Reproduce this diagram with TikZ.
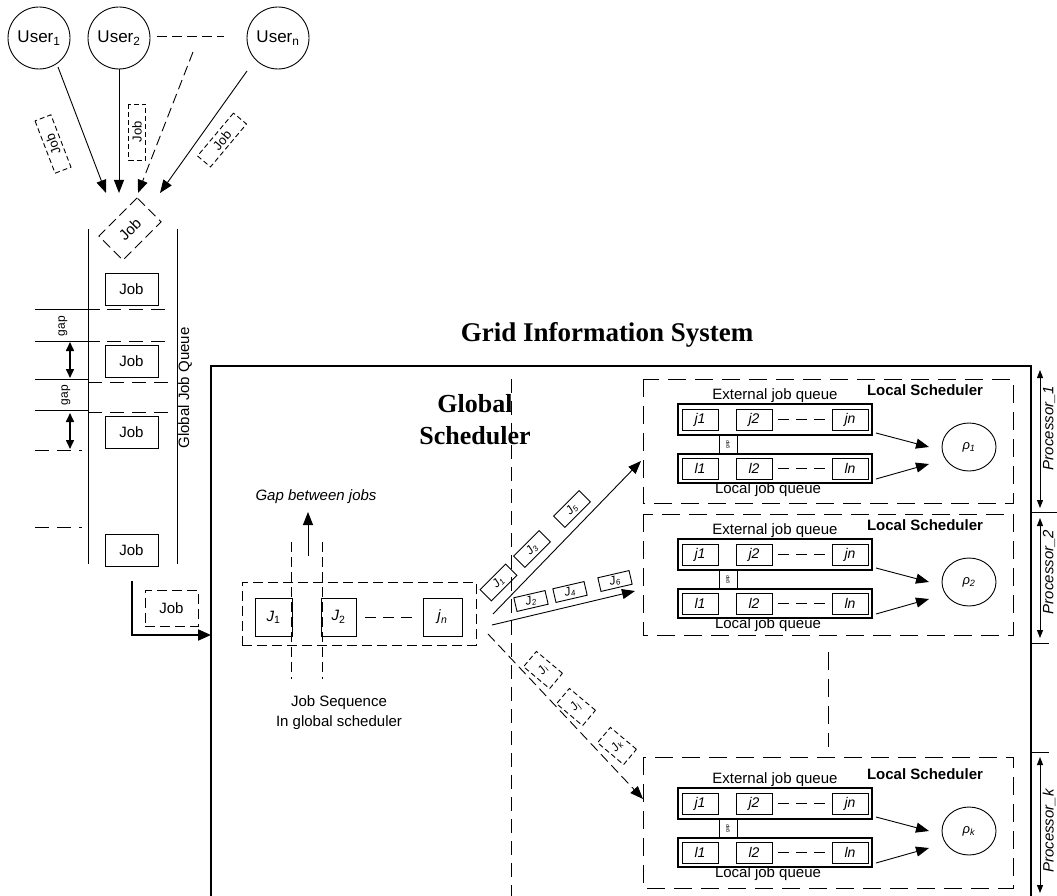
\documentclass[tikz,border=0pt]{standalone}
\usepackage{fontspec}
\setmainfont{Liberation Sans}
\newfontfamily\timesfam{Liberation Serif}
\usetikzlibrary{arrows.meta,shapes.geometric}
\newcommand\fs[1]{\fontsize{#1}{#1}\selectfont}
\newcommand\LocalSched[5]{%
\begin{scope}[shift={(0,#2)}]
  \draw[ldsh] (643,0) rectangle (1013,#4);
  \node[font=\bfseries\fs{15}] (#1title) at (925,{11+#3}) {Local Scheduler};
  \begin{scope}[shift={(0,#3)}]
    \node[lab] (#1extl) at (775,17) {External job queue};
    \node[qrect,minimum height=31pt] (#1ext) at (775,40.5) {};
    \node[qrect,minimum height=29pt] (#1loc) at (775,89.5) {};
    \node[ibox] (#1j1) at (700,40.5) {\textit{j1}};
    \node[ibox] (#1j2) at (754,40.5) {\textit{j2}};
    \node[ibox] (#1jn) at (850,40.5) {\textit{jn}};
    \node[ibox] (#1l1) at (700,89.5) {\textit{l1}};
    \node[ibox] (#1l2) at (754,89.5) {\textit{l2}};
    \node[ibox] (#1ln) at (850,89.5) {\textit{ln}};
    \draw[qdash,shorten <=6pt,shorten >=7pt] (#1j2) -- (#1jn);
    \draw[qdash,shorten <=6pt,shorten >=7pt] (#1l2) -- (#1ln);
    \node[lab] (#1locl) at (768,111) {Local job queue};
    \coordinate (#1ga) at (719,56); \coordinate (#1gb) at (719,75);
    \coordinate (#1gc) at (737,56); \coordinate (#1gd) at (737,75);
    \draw[line width=0.8pt] (#1ga) -- (#1gb);
    \draw[line width=0.8pt] (#1gc) -- (#1gd);
    \node[rotate=90,font=\fs{5},inner sep=0pt] (#1gap) at (728,65.5) {gap};
    \node[ellipse,draw,minimum width=54pt,minimum height=48pt,inner sep=0pt,font=\fs{13}] (#1p) at (969,68) {\textit{ρ}\textsubscript{\textit{#5}}};
    \coordinate (#1ea) at (876,54); \coordinate (#1pa) at (929,68);
    \coordinate (#1la) at (876,100); \coordinate (#1pb) at (929,85);
    \draw[arr] (#1ea) -- (#1pa);
    \draw[arr] (#1la) -- (#1pb);
  \end{scope}
\end{scope}}
\begin{document}
\begin{tikzpicture}[x=1pt,y=-1pt,line width=0.9pt,
  every node/.style={font=\fs{15}},
  arr/.style={-{Triangle[length=13pt,width=10pt]}},
  darr/.style={{Triangle[length=8pt,width=6pt]}-{Triangle[length=8pt,width=6pt]}},
  garr/.style={line width=1.6pt,{Triangle[length=9pt,width=8pt]}-{Triangle[length=9pt,width=8pt]}},
  ldsh/.style={dash pattern=on 18pt off 9pt},
  gdsh/.style={dash pattern=on 14pt off 8pt},
  dsh/.style={dash pattern=on 10pt off 5pt},
  sdsh/.style={dash pattern=on 5pt off 3pt},
  qdash/.style={dash pattern=on 11pt off 7pt},
  user/.style={circle,draw,minimum size=62pt,inner sep=0pt,font=\fs{17}},
  jobbox/.style={draw,minimum width=53pt,minimum height=32pt,inner sep=0pt},
  tagbox/.style={draw,sdsh,minimum width=56pt,minimum height=17pt,inner sep=0pt,font=\fs{13}},
  jtag/.style={draw,minimum width=36pt,minimum height=16pt,inner sep=0pt,font=\itshape\fs{12}},
  lab/.style={font=\fs{15},inner sep=0pt},
  ibox/.style={draw,minimum width=36pt,minimum height=21pt,inner sep=0pt,font=\fs{14}},
  qrect/.style={draw,line width=1.3pt,minimum width=194pt,inner sep=0pt},
  sbox/.style={draw,minimum height=38pt,inner sep=0pt,font=\fs{15}},
]
\useasboundingbox (0,0) rectangle (1057,896);
% users
\node[user] (u1) at (39,38) {User\textsubscript{1}};
\node[user] (u2) at (119,38) {User\textsubscript{2}};
\node[user] (un) at (278,38) {User\textsubscript{n}};
\coordinate (d1) at (157,36); \coordinate (d2) at (224,36);
\draw[dsh] (d1) -- (d2);
\coordinate (t1) at (106,193); \coordinate (t2) at (119,193);
\coordinate (t3) at (138,193); \coordinate (t4) at (160,193);
\coordinate (s1) at (58,67); \coordinate (s3) at (193,52); \coordinate (s4) at (247,71);
\draw[arr] (s1) -- (t1);
\draw[arr] (u2) -- (t2);
\draw[arr,dsh] (s3) -- (t3);
\draw[arr] (s4) -- (t4);
\node[tagbox,rotate=111] (tg1) at (53,144) {Job};
\node[tagbox,rotate=90] (tg2) at (137,132) {Job};
\node[tagbox,rotate=50] (tg3) at (222,140) {Job};
% global job queue
\node[draw,dsh,rotate=45,minimum width=54pt,minimum height=34pt,inner sep=0pt] (qd) at (130,229) {Job};
\coordinate (qa) at (88,229); \coordinate (qb) at (88,564);
\coordinate (qc) at (177,229); \coordinate (qe) at (177,564);
\draw (qa) -- (qb); \draw (qc) -- (qe);
\node[jobbox] (q1) at (131.5,289) {Job};
\node[jobbox] (q2) at (131.5,361) {Job};
\node[jobbox] (q3) at (131.5,432) {Job};
\node[jobbox] (q4) at (131.5,550) {Job};
\draw (35,309) -- (100,309); \draw[gdsh] (107,309) -- (170,309);
\draw (35,341) -- (100,341); \draw[gdsh] (107,341) -- (170,341);
\draw (35,379) -- (88,379); \draw[gdsh] (88,382) -- (170,382);
\draw (35,410) -- (88,410); \draw[gdsh] (88,412) -- (170,412);
\draw[gdsh] (35,450) -- (82,450);
\draw[gdsh] (35,527) -- (82,527);
\coordinate (ga) at (70,342); \coordinate (gb) at (70,378);
\coordinate (gc) at (70,413); \coordinate (gd) at (70,449);
\draw[garr] (ga) -- (gb);
\draw[garr] (gc) -- (gd);
\node[rotate=90,font=\fs{12}] (gp1) at (63,326) {gap};
\node[rotate=90,font=\fs{12}] (gp2) at (66,395) {gap};
\node[rotate=90,font=\fs{15}] (gjq) at (185,388) {Global Job Queue};
\coordinate (lq) at (132,581); \coordinate (gin) at (211,635);
\draw[line width=2pt,-{Triangle[length=13pt,width=11pt]}] (lq) |- (gin);
\node[draw,dsh,minimum width=53pt,minimum height=36pt,inner sep=0pt] (jd) at (171.5,608) {Job};
% grid information system
\draw[line width=1.2pt] (211,896) -- (211,366) -- (1031,366) -- (1031,896);
\node[font=\timesfam\bfseries\fs{27}] (gis) at (607,335) {Grid Information System};
\node[font=\timesfam\bfseries\fontsize{26}{32}\selectfont,align=center] (gs) at (475,420) {Global\\Scheduler};
\coordinate (va) at (511,379); \coordinate (vb) at (511,896);
\draw[gdsh] (va) -- (vb);
% job sequence
\node[draw,dsh,minimum width=234pt,minimum height=63pt,inner sep=0pt] (seq) at (359,613.5) {};
\node[sbox,minimum width=37pt] (J1) at (273.5,617) {\textit{J}\textsubscript{1}};
\node[sbox,minimum width=35pt] (J2) at (338.5,617) {\textit{J}\textsubscript{2}};
\node[sbox,minimum width=39pt] (Jn) at (442.5,617) {\textit{j}\textsubscript{\textit{n}}};
\draw[qdash,shorten <=9pt,shorten >=10pt] (J2) -- (Jn);
\coordinate (gl1) at (291,542); \coordinate (gl2) at (291,679);
\coordinate (gr1) at (322,542); \coordinate (gr2) at (322,679);
\draw[dsh] (gl1) -- (gl2); \draw[dsh] (gr1) -- (gr2);
\coordinate (up1) at (308,556); \coordinate (up2) at (308,512);
\draw[arr] (up1) -- (up2);
\node[font=\itshape\fs{15}] (gbj) at (316,497) {Gap between jobs};
\node[font=\fontsize{15}{20}\selectfont,align=center] (jsq) at (339,713) {Job Sequence\\In global scheduler};
% dispatch arrows
\coordinate (o1) at (493,614); \coordinate (e1) at (641,461);
\coordinate (o2) at (492,625); \coordinate (e2) at (635,591);
\coordinate (o3) at (488,634); \coordinate (e3) at (643,799);
\draw[arr] (o1) -- (e1);
\draw[arr] (o2) -- (e2);
\draw[arr,dsh] (o3) -- (e3);
\node[jtag,rotate=45] (tj1) at (498.5,582.5) {J\textsubscript{1}};
\node[jtag,rotate=45] (tj3) at (532,549) {J\textsubscript{3}};
\node[jtag,rotate=45] (tj5) at (572,509) {J\textsubscript{5}};
\node[jtag,rotate=13,minimum width=32pt,minimum height=14pt] (tj2) at (531,601) {J\textsubscript{2}};
\node[jtag,rotate=13,minimum width=32pt,minimum height=14pt] (tj4) at (570,592) {J\textsubscript{4}};
\node[jtag,rotate=13,minimum width=32pt,minimum height=14pt] (tj6) at (615,581) {J\textsubscript{6}};
\node[jtag,sdsh,rotate=-40,minimum width=34pt,minimum height=20pt] (tji) at (543,670) {};
\node[jtag,sdsh,rotate=-40,minimum width=34pt,minimum height=20pt] (tjj) at (576,707) {};
\node[jtag,sdsh,rotate=-40,minimum width=34pt,minimum height=20pt] (tjk) at (617,746) {};
\node[rotate=50,font=\itshape\fs{12},inner sep=0pt] (tjit) at (tji) {J\textsubscript{i}};
\node[rotate=50,font=\itshape\fs{12},inner sep=0pt] (tjjt) at (tjj) {J\textsubscript{j}};
\node[rotate=50,font=\itshape\fs{12},inner sep=0pt] (tjkt) at (tjk) {J\textsubscript{k}};
% local schedulers
\LocalSched{a}{379}{0}{124}{1}
\LocalSched{b}{514}{0}{121}{2}
\LocalSched{k}{757}{6}{131}{k}
\coordinate (vl1) at (828,652); \coordinate (vl2) at (828,747);
\draw[ldsh] (vl1) -- (vl2);
% processors
\coordinate (h1a) at (1031,512); \coordinate (h1b) at (1057,512);
\coordinate (h2a) at (1031,643); \coordinate (h2b) at (1057,643);
\coordinate (h3a) at (1031,752); \coordinate (h3b) at (1057,752);
\draw (h1a) -- (h1b);
\draw[ldsh] (h2a) -- (h2b);
\draw[ldsh] (h3a) -- (h3b);
\coordinate (pa1) at (1040,370); \coordinate (pa2) at (1040,508);
\coordinate (pb1) at (1040,518); \coordinate (pb2) at (1040,638);
\coordinate (pk1) at (1040,757); \coordinate (pk2) at (1040,893);
\draw[darr] (pa1) -- (pa2);
\draw[darr] (pb1) -- (pb2);
\draw[darr] (pk1) -- (pk2);
\node[rotate=90,font=\itshape\fs{15}] (pr1) at (1049,428) {Processor\_1};
\node[rotate=90,font=\itshape\fs{15}] (pr2) at (1049,572) {Processor\_2};
\node[rotate=90,font=\itshape\fs{15}] (prk) at (1049,831) {Processor\_k};
\end{tikzpicture}
\end{document}
